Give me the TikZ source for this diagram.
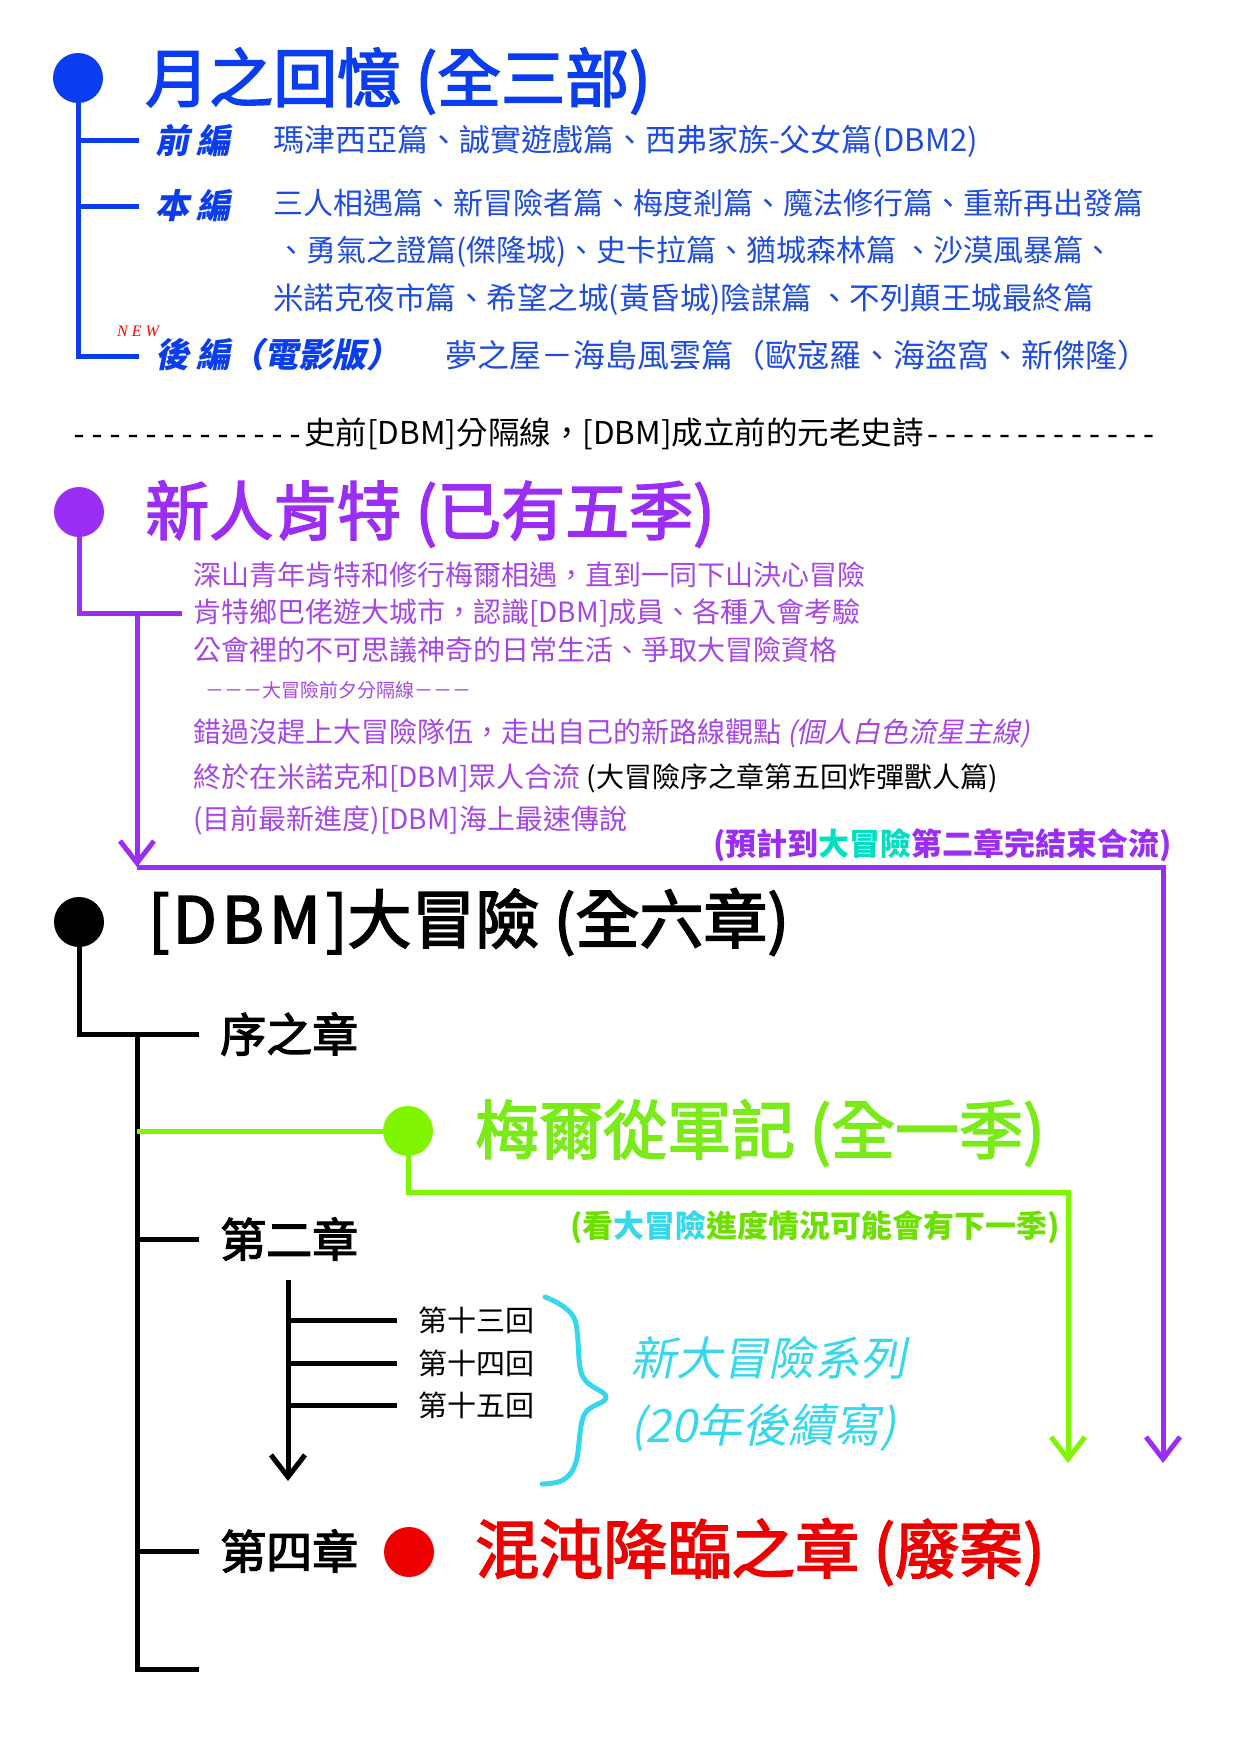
\documentclass[tikz,border=0pt]{standalone}
\usepackage{fontspec}
\setmainfont{Noto Sans CJK TC}
\newfontfamily\slantcjk{Noto Sans CJK TC}[FakeSlant=0.2]
\newfontfamily\titlecjk{Noto Sans CJK TC}[FakeBold=2.6]
\newfontfamily\tagfont{Liberation Serif}
\newfontfamily\dashfont{Liberation Mono}
\usepackage{xcolor}
\usepackage{tikz}
\usetikzlibrary{arrows.meta,calc,positioning}
\definecolor{moonblue}{HTML}{0A3CF0}
\definecolor{moontext}{HTML}{1E4BE0}
\definecolor{kentpurple}{HTML}{9B2EF5}
\definecolor{kenttext}{HTML}{A646E6}
\definecolor{merlgreen}{HTML}{80F500}
\definecolor{merltext}{HTML}{7AEB18}
\definecolor{notegreen}{HTML}{6CE000}
\definecolor{seacyan}{HTML}{38D8EC}
\definecolor{noteteal}{HTML}{00E0C0}
\definecolor{chaosred}{HTML}{EE0000}
\newcommand{\setsz}[1]{\fontsize{#1}{#1}\selectfont}

\begin{document}
\begin{tikzpicture}[x=1pt,y=-1pt,
  bigdot/.style={circle,inner sep=0pt,minimum size=50pt},
  bigtitle/.style={anchor=west,inner sep=0pt,font=\titlecjk\setsz{64}},
  entry/.style={anchor=west,inner sep=0pt},
  treeline/.style={line width=5pt,line join=miter},
  downarrow/.style={-{Straight Barb[length=22pt,width=34pt]}},
  bracepen/.style={seacyan,line width=5pt,line cap=round,line join=round}]
  \useasboundingbox (0,0) rectangle (1240,1754);

  \node[bigdot,fill=moonblue] (moon) at (78,78) {};
  \node[bigtitle,text=moonblue] (moontitle) at (145,81) {月之回憶 (全三部)};
  \coordinate (mfront) at (139,140);
  \coordinate (mmain) at (139,206);
  \coordinate (mafter) at (139,356);
  \draw[treeline,moonblue] (moon.south) -- (moon.south |- mafter) -- (mafter);
  \foreach \b in {mfront,mmain} \draw[treeline,moonblue] (moon.south |- \b) -- (\b);
  \node[entry,text=moonblue,font=\slantcjk\setsz{34}\bfseries] (front) at (155,141) {前 編};
  \node[entry,text=moonblue,font=\slantcjk\setsz{34}\bfseries] (main) at (155,206) {本 編};
  \node[entry,text=moonblue,font=\slantcjk\setsz{34}\bfseries] (after) at (155,355) {後 編（電影版）};
  \node[entry,text=red,font=\tagfont\itshape\setsz{16}] (newtag) at (117,331) {N E W};
  \node[entry,text=moontext,font=\setsz{31}] (frontlist) at (273,141) {瑪津西亞篇、誠實遊戲篇、西弗家族-父女篇(DBM2)};
  \node[entry,text=moontext,font=\setsz{30}] (mainlist1) at (273,203) {三人相遇篇、新冒險者篇、梅度剎篇、魔法修行篇、重新再出發篇};
  \node[entry,text=moontext,font=\setsz{30}] (mainlist2) at (276,252) {、勇氣之證篇(傑隆城)、史卡拉篇、猶城森林篇 、沙漠風暴篇、};
  \node[entry,text=moontext,font=\setsz{30.5}] (mainlist3) at (273,300) {米諾克夜市篇、希望之城(黃昏城)陰謀篇 、不列顛王城最終篇};
  \node[entry,text=moontext,font=\setsz{32}] (afterlist) at (445,355) {夢之屋－海島風雲篇（歐寇羅、海盜窩、新傑隆）};

  \node[font=\setsz{31.5}] (divider) at (614,434) {{\dashfont\setsz{30}-------------}史前[DBM]分隔線，[DBM]成立前的元老史詩{\dashfont\setsz{30}-------------}};

  \node[bigdot,fill=kentpurple] (kent) at (79,512) {};
  \node[bigtitle,text=kentpurple] (kenttitle) at (145,514) {新人肯特 (已有五季)};
  \coordinate (kbend) at (182,613);
  \coordinate (kdrop) at (137,613);
  \coordinate (kmerge) at (137,867);
  \coordinate (kcorner) at (1163,867);
  \coordinate (kend) at (1163,1463);
  \draw[treeline,kentpurple] (kent.south) -- (kent.south |- kbend) -- (kbend);
  \draw[treeline,kentpurple,downarrow] (kdrop) -- (kmerge);
  \draw[treeline,kentpurple,downarrow] (kmerge) -- (kcorner) -- (kend);
  \node[entry,text=kenttext,font=\setsz{28}] (kent1) at (193,575) {深山青年肯特和修行梅爾相遇，直到一同下山決心冒險};
  \node[entry,text=kenttext,font=\setsz{28}] (kent2) at (193,613) {肯特鄉巴佬遊大城市，認識[DBM]成員、各種入會考驗};
  \node[entry,text=kenttext,font=\setsz{28}] (kent3) at (193,650) {公會裡的不可思議神奇的日常生活、爭取大冒險資格};
  \node[entry,text=kenttext,font=\setsz{19}] (kenteve) at (205,690) {－－－大冒險前夕分隔線－－－};
  \node[entry,text=kenttext,font=\setsz{28}] (kent4) at (193,733) {錯過沒趕上大冒險隊伍，走出自己的新路線觀點 {\slantcjk (個人白色流星主線)}};
  \node[entry,text=kenttext,font=\setsz{28}] (kent5) at (193,778) {終於在米諾克和[DBM]眾人合流 \textcolor{black}{(大冒險序之章第五回炸彈獸人篇)}};
  \node[entry,text=kenttext,font=\setsz{28}] (kent6) at (193,820) {(目前最新進度)[DBM]海上最速傳說};
  \node[entry,text=kentpurple,font=\setsz{31}\bfseries] (kentnote) at (713,845) {(預計到\textcolor{noteteal}{大冒險}第二章完結束合流)};

  \node[bigdot,fill=black] (dbm) at (79,922) {};
  \node[bigtitle] (dbmtitle) at (148,922) {[\kern3pt D\kern5pt B\kern5pt M\kern5pt]大冒險 (全六章)};
  \coordinate (dbmbend) at (199,1034);
  \coordinate (trunktop) at (137,1034);
  \coordinate (trunkend) at (199,1669);
  \coordinate (ch2) at (199,1239);
  \coordinate (ch4) at (199,1551);
  \draw[treeline] (dbm.south) -- (dbm.south |- dbmbend) -- (dbmbend);
  \draw[treeline] (trunktop) -- (trunktop |- trunkend) -- (trunkend);
  \foreach \c in {ch2,ch4} \draw[treeline] (trunktop |- \c) -- (\c);
  \node[entry,font=\titlecjk\setsz{46}] (prologue) at (220,1034) {序之章};
  \node[entry,font=\titlecjk\setsz{46}] (chapter2) at (220,1239) {第二章};
  \node[entry,font=\titlecjk\setsz{46}] (chapter4) at (220,1551) {第四章};

  \node[bigdot,fill=merlgreen] (merl) at (408,1131) {};
  \draw[treeline,merlgreen] (trunktop |- merl) -- (merl.west);
  \node[bigtitle,text=merltext] (merltitle) at (475,1133) {梅爾從軍記 (全一季)};
  \coordinate (mcorner) at (1068,1192);
  \coordinate (mend) at (1068,1463);
  \draw[treeline,merlgreen,downarrow] (merl.south) -- (merl.south |- mcorner) -- (mcorner) -- (mend);
  \node[entry,text=notegreen,font=\setsz{31}\bfseries] (merlnote) at (570,1227) {(看\textcolor{seacyan}{大冒險}進度情況可能會有下一季)};

  \coordinate (arctop) at (288,1280);
  \coordinate (arcend) at (288,1481);
  \draw[treeline,downarrow] (arctop) -- (arcend);
  \foreach \n/\y in {十三/1320,十四/1363,十五/1405} {
    \node[entry,font=\setsz{29}] (ep\y) at (418,\y) {第\n 回};
    \draw[treeline] (arctop |- ep\y) -- ([xshift=-21pt]ep\y.west);
  }
  \draw[bracepen] plot[smooth,tension=0.6] coordinates {(545,1297) (574,1318) (582,1375) (606,1397) (584,1415) (576,1462) (563,1480) (542,1484)};
  \node[entry,text=seacyan,font=\slantcjk\setsz{46}] (series) at (630,1358) {新大冒險系列};
  \node[entry,text=seacyan,font=\slantcjk\setsz{46}] (seriesyear) at (630,1428) {(20年後續寫)};

  \node[bigdot,fill=chaosred] (chaos) at (409,1552) {};
  \node[bigtitle,text=chaosred] (chaostitle) at (475,1552) {混沌降臨之章 (廢案)};
\end{tikzpicture}
\end{document}
